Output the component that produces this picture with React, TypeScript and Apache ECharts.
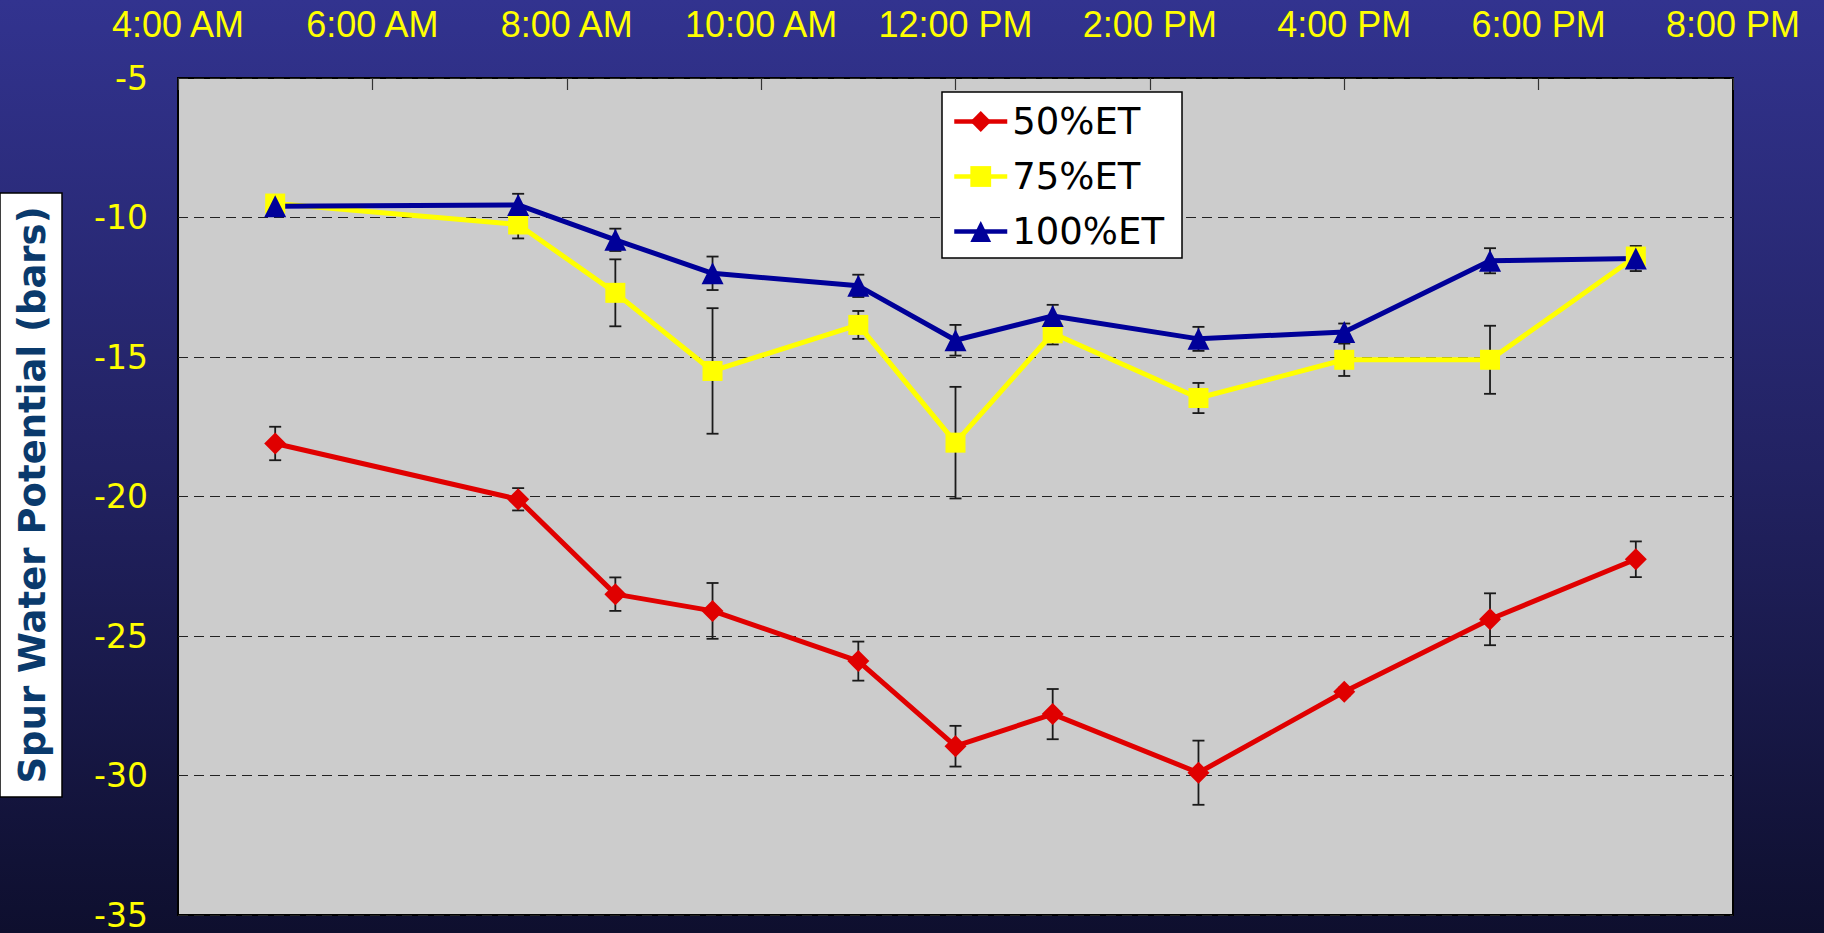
import React, { useEffect, useRef } from "react";
import * as echarts from "echarts";

const times = [5, 7.5, 8.5, 9.5, 11, 12, 13, 14.5, 16, 17.5, 19];
const xTicks = ["4:00 AM", "6:00 AM", "8:00 AM", "10:00 AM", "12:00 PM", "2:00 PM", "4:00 PM", "6:00 PM", "8:00 PM"];
const seriesNames = ["50%ET", "75%ET", "100%ET"];
const et50 = [-18.1, -20.1, -23.5, -24.1, -25.9, -28.95, -27.8, -29.9, -27.0, -24.4, -22.25];
const et50err = [0.6, 0.4, 0.6, 1.0, 0.7, 0.73, 0.9, 1.15, 0.15, 0.93, 0.64];
const et75 = [-9.5, -10.25, -12.7, -15.5, -13.85, -18.07, -14.15, -16.47, -15.1, -15.1, -11.4];
const et75err = [0.1, 0.5, 1.2, 2.25, 0.5, 2.0, 0.4, 0.54, 0.58, 1.22, 0.3];
const et100 = [-9.6, -9.55, -10.8, -12.0, -12.45, -14.4, -13.53, -14.35, -14.1, -11.55, -11.47];
const et100err = [0.1, 0.4, 0.4, 0.6, 0.4, 0.55, 0.4, 0.43, 0.3, 0.45, 0.45];

const FONT = "'DejaVu Sans', Verdana, sans-serif";
const FONT_X = "'Liberation Sans', Arial, sans-serif";

function errData(vals: number[], errs: number[]) {
  return times.map((t, i) => [t, vals[i] - errs[i], vals[i] + errs[i]]);
}

function errSeries(vals: number[], errs: number[]) {
  return {
    type: "custom",
    z: 1,
    silent: true,
    encode: { x: 0, y: [1, 2] },
    data: errData(vals, errs),
    renderItem: (params: any, api: any) => {
      const x = api.value(0);
      const lo = api.value(1);
      const hi = api.value(2);
      const p1 = api.coord([x, hi]);
      const p2 = api.coord([x, lo]);
      const cap = 6;
      const style = { stroke: "#1a1a1a", lineWidth: 1.8 };
      return {
        type: "group",
        children: [
          { type: "line", shape: { x1: p1[0], y1: p1[1], x2: p2[0], y2: p2[1] }, style },
          { type: "line", shape: { x1: p1[0] - cap, y1: p1[1], x2: p1[0] + cap, y2: p1[1] }, style },
          { type: "line", shape: { x1: p2[0] - cap, y1: p2[1], x2: p2[0] + cap, y2: p2[1] }, style },
        ],
      };
    },
  };
}

function lineSeries(name: string, vals: number[], color: string, symbol: string, size: number) {
  return {
    type: "line",
    name,
    z: 3,
    data: times.map((t, i) => [t, vals[i]]),
    symbol,
    symbolSize: size,
    lineStyle: { color, width: 5 },
    itemStyle: { color },
  };
}

export default function App() {
  const ref = useRef<HTMLDivElement>(null);
  useEffect(() => {
    if (!ref.current) return;
    const chart = echarts.init(ref.current, undefined, { renderer: "svg" });
    chart.setOption({
      animation: false,
      backgroundColor: new echarts.graphic.LinearGradient(0, 0, 0, 1, [
        { offset: 0, color: "#32338f" },
        { offset: 0.5, color: "#222262" },
        { offset: 1, color: "#0e0f2e" },
      ]),
      grid: {
        left: 178,
        right: 91,
        top: 78,
        bottom: 18,
        show: true,
        backgroundColor: "#cccccc",
        borderColor: "#000000",
        borderWidth: 2,
      },
      xAxis: {
        type: "value",
        position: "top",
        min: 4,
        max: 20,
        interval: 2,
        axisLine: { show: false },
        axisTick: { show: true, inside: true, length: 12, lineStyle: { color: "#333", width: 1.2 } },
        splitLine: { show: false },
        axisLabel: {
          color: "#ffff00",
          fontSize: 36,
          fontFamily: FONT_X,
          margin: 36,
          formatter: (v: number) => xTicks[Math.round((v - 4) / 2)] ?? "",
        },
      },
      yAxis: {
        type: "value",
        min: -35,
        max: -5,
        interval: 5,
        axisLine: { show: false },
        axisTick: { show: false },
        splitLine: { show: true, lineStyle: { color: "#222", type: [10, 6], width: 1.2 } },
        axisLabel: { color: "#ffff00", fontSize: 33, fontFamily: FONT, margin: 30 },
      },
      legend: {
        data: seriesNames,
        orient: "vertical",
        left: 942,
        top: 92,
        backgroundColor: "#ffffff",
        borderColor: "#000000",
        borderWidth: 1.5,
        borderRadius: 0,
        padding: [11, 18, 8, 10],
        itemWidth: 53,
        itemHeight: 26,
        itemGap: 18,
        lineStyle: { width: 4.5 },
        textStyle: { color: "#000", fontSize: 37, fontFamily: FONT, lineHeight: 37 },
      },
      graphic: [
        {
          type: "rect",
          shape: { x: 0, y: 193, width: 62, height: 604 },
          style: { fill: "#ffffff", stroke: "#000000", lineWidth: 1.5 },
          z: 10,
        },
        {
          type: "text",
          x: 32,
          y: 495,
          rotation: Math.PI / 2,
          z: 11,
          style: {
            text: "Spur Water Potential (bars)",
            fill: "#0a3a6c",
            font: `bold 37px ${FONT}`,
            align: "center",
            verticalAlign: "middle",
          },
        },
      ],
      series: [
        errSeries(et50, et50err),
        errSeries(et75, et75err),
        errSeries(et100, et100err),
        lineSeries(seriesNames[0], et50, "#e00000", "diamond", 22),
        lineSeries(seriesNames[1], et75, "#ffff00", "rect", 20),
        lineSeries(seriesNames[2], et100, "#000099", "triangle", 22),
      ],
    });
    return () => chart.dispose();
  }, []);
  return (
    <div
      ref={ref}
      style={{ position: "fixed", left: 0, top: 0, width: 1824, height: 933 }}
    />
  );
}
